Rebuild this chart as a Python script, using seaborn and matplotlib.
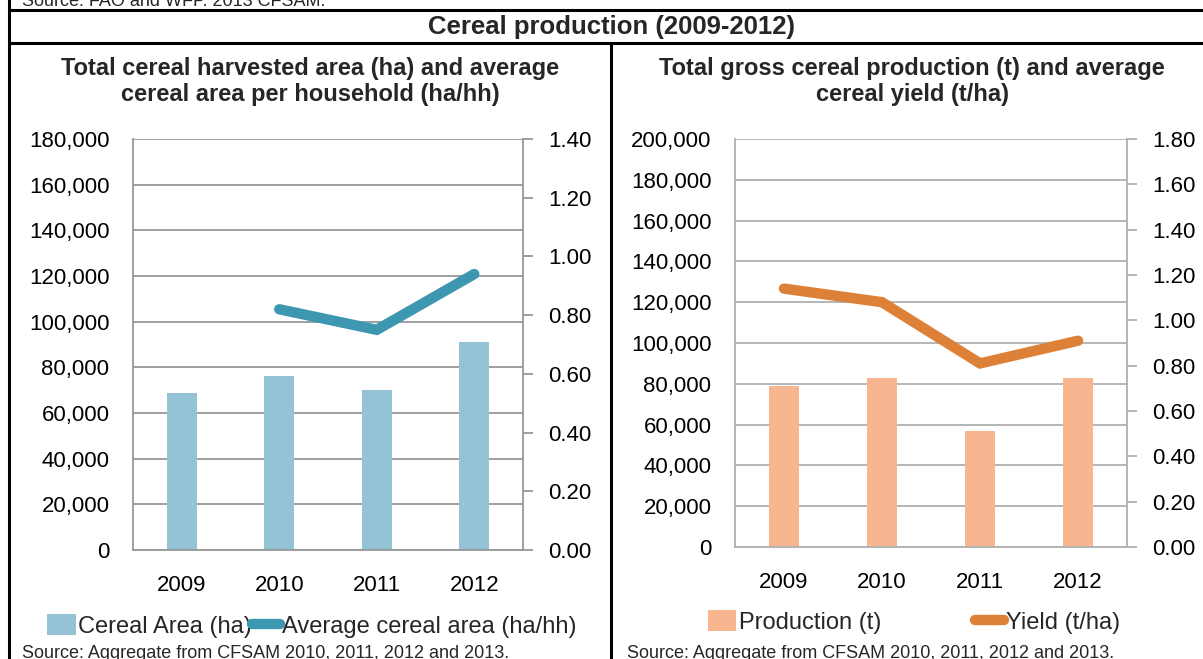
import numpy as np
import pandas as pd
import matplotlib
matplotlib.use("Agg")
import matplotlib.pyplot as plt
import seaborn as sns
from matplotlib.patches import Patch
from matplotlib.lines import Line2D
from matplotlib.ticker import FuncFormatter, MultipleLocator

# ---------------- data ----------------
years = ["2009", "2010", "2011", "2012"]
cereal_area_ha = [68900, 76300, 70200, 91000]
avg_area_ha_hh = [np.nan, 0.82, 0.75, 0.94]
production_t = [78800, 82700, 56700, 82700]
yield_t_ha = [1.14, 1.08, 0.81, 0.91]

header = "Cereal production (2009-2012)"
title_left = "Total cereal harvested area (ha) and average\ncereal area per household (ha/hh)"
title_right = "Total gross cereal production (t) and average\ncereal yield (t/ha)"
source_top = "Source: FAO and WFP. 2013 CFSAM."
source_bottom = "Source: Aggregate from CFSAM 2010, 2011, 2012 and 2013."

# ---------------- style ----------------
sns.set_theme(style="white")
plt.rcParams["font.family"] = ["Liberation Sans", "DejaVu Sans"]

W, H = 1203, 659
fig = plt.figure(figsize=(W / 100, H / 100), dpi=100)

def fx(px):
    return px / W

def fy(py):
    return 1 - py / H

TICK_FS = 16

def add_panel(left, right, top, bottom, df, bar_col, line_col, bar_color, line_color,
              ymax, ystep, y2max, y2step, grid_color):
    ax = fig.add_axes([fx(left), fy(bottom), fx(right - left), (bottom - top) / H])
    sns.barplot(data=df, x="year", y=bar_col, ax=ax, color=bar_color,
                saturation=1, width=0.31, edgecolor="none")
    ax.set_ylim(0, ymax)
    ax.set_xlim(-0.5, len(df) - 0.5)
    ax.yaxis.set_major_locator(MultipleLocator(ystep))
    ax.yaxis.set_major_formatter(FuncFormatter(lambda v, p: f"{v:,.0f}"))
    ax.grid(axis="y", color=grid_color, linewidth=1.3)
    ax.set_axisbelow(True)
    ax.set_xlabel("")
    ax.set_ylabel("")
    ax.tick_params(axis="y", length=0, pad=17, labelsize=TICK_FS, colors="black")
    ax.tick_params(axis="x", length=0, pad=18, labelsize=TICK_FS, colors="black")
    for s in ["left", "bottom"]:
        ax.spines[s].set_color(grid_color)
        ax.spines[s].set_linewidth(1.3)
    ax.spines["top"].set_visible(False)
    ax.spines["right"].set_visible(False)

    ax2 = ax.twinx()
    pos = np.arange(len(df))
    sns.lineplot(x=pos, y=df[line_col].values, ax=ax2, color=line_color,
                 linewidth=7.5, solid_capstyle="round", solid_joinstyle="miter")
    ax2.set_ylim(0, y2max)
    ax2.yaxis.set_major_locator(MultipleLocator(y2step))
    ax2.yaxis.set_major_formatter(FuncFormatter(lambda v, p: f"{v:.2f}"))
    ax2.tick_params(axis="y", length=7, width=1.3, color=grid_color, pad=11,
                    labelsize=TICK_FS, labelcolor="black")
    ax2.set_ylabel("")
    for s in ["left", "top", "bottom"]:
        ax2.spines[s].set_visible(False)
    ax2.spines["right"].set_color(grid_color)
    ax2.spines["right"].set_linewidth(1.3)
    ax2.grid(False)
    return ax, ax2

df_left = pd.DataFrame({"year": years, "area": cereal_area_ha, "avg": avg_area_ha_hh})
df_right = pd.DataFrame({"year": years, "prod": production_t, "yield": yield_t_ha})

c_bar_l, c_line_l = "#93c3d4", "#3d97b0"
c_bar_r, c_line_r = "#f8b690", "#dd8139"

add_panel(133, 523, 139, 550, df_left, "area", "avg", c_bar_l, c_line_l,
          180000, 20000, 1.40, 0.20, "#979797")
add_panel(735, 1127, 139, 547, df_right, "prod", "yield", c_bar_r, c_line_r,
          200000, 20000, 1.80, 0.20, "#b0b0b0")

# ---------------- frame lines ----------------
lk = dict(color="black", linewidth=2.2, transform=fig.transFigure, clip_on=False)
fig.add_artist(Line2D([fx(9), fx(9)], [fy(0), fy(H)], **lk))
fig.add_artist(Line2D([fx(9), 1], [fy(10), fy(10)], **lk))
fig.add_artist(Line2D([fx(9), 1], [fy(43), fy(43)], **lk))
fig.add_artist(Line2D([fx(611), fx(611)], [fy(43), fy(H)], **lk))

# ---------------- texts ----------------
fig.text(fx(22), fy(2), source_top, fontsize=13, ha="left", va="center")
fig.text(fx(612), fy(27), header, fontsize=18.5, fontweight="bold", ha="center", va="center")
fig.text(fx(310), fy(81.5), title_left, fontsize=17, fontweight="bold", ha="center",
         va="center", linespacing=1.12)
fig.text(fx(912), fy(81.5), title_right, fontsize=17, fontweight="bold", ha="center",
         va="center", linespacing=1.12)
fig.text(fx(22), fy(654), source_bottom, fontsize=13, ha="left", va="center")
fig.text(fx(627), fy(654), source_bottom, fontsize=13, ha="left", va="center")

# ---------------- legends ----------------
def legend(handles, labels, cx, cy, colspace):
    leg = fig.legend(handles, labels, loc="center", bbox_to_anchor=(fx(cx), fy(cy)),
                     ncol=2, frameon=False, fontsize=17, handlelength=1.2,
                     handletextpad=0.1, columnspacing=colspace, handleheight=1.0,
                     borderaxespad=0)
    return leg

legend([Patch(facecolor=c_bar_l, edgecolor="none"),
        Line2D([0], [0], color=c_line_l, linewidth=7.5, solid_capstyle="round")],
       ["Cereal Area (ha)", "Average cereal area (ha/hh)"], 312, 626, 0.0)
legend([Patch(facecolor=c_bar_r, edgecolor="none"),
        Line2D([0], [0], color=c_line_r, linewidth=7.5, solid_capstyle="round")],
       ["Production (t)", "Yield (t/ha)"], 914, 622, 4.0)

fig.savefig("out.png", dpi=100)
